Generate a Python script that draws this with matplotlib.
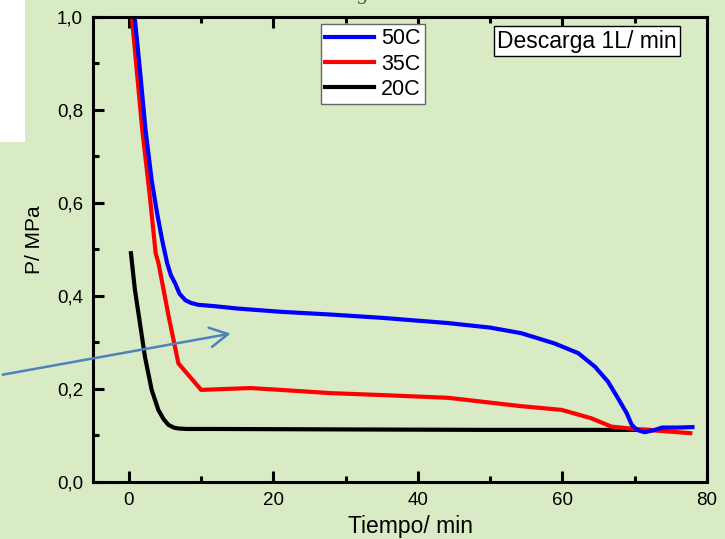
import numpy as np
import matplotlib
matplotlib.use('Agg')
import matplotlib.pyplot as plt
from matplotlib.patches import FancyArrowPatch, Rectangle
from matplotlib.ticker import MultipleLocator, FuncFormatter

plt.rcParams['font.family'] = ['Liberation Sans', 'DejaVu Sans']

# 50C
t50 = [0.6, 1.5, 2.3, 3.15, 3.9, 4.6, 5.3, 5.8, 6.4, 7.0, 7.8, 8.6, 9.6, 11.9, 15, 21,
       28, 35, 44, 50, 54.3, 58.9, 62.2, 64.5, 66.3, 67.7, 68.9, 69.6, 70.3, 71.4,
       72.8, 73.8, 76, 78]
p50 = [1.03, 0.89, 0.757, 0.649, 0.578, 0.52, 0.47, 0.445, 0.427, 0.405, 0.391,
       0.385, 0.381, 0.378, 0.373, 0.366, 0.36, 0.353, 0.342, 0.332, 0.32, 0.298,
       0.277, 0.248, 0.216, 0.18, 0.148, 0.123, 0.112, 0.107, 0.112, 0.117, 0.117,
       0.118]

# 35C
t35 = [0, 0.4, 1.85, 2.9, 3.7, 4.1, 5.5, 6.85, 10, 16.8, 21, 28, 34.9, 44.2, 54.3,
       59.9, 64, 66.8, 70, 77.7]
p35 = [1.06, 1.0, 0.757, 0.614, 0.492, 0.47, 0.356, 0.255, 0.198, 0.202, 0.198,
       0.191, 0.187, 0.181, 0.163, 0.155, 0.137, 0.119, 0.114, 0.105]

# 20C
t20 = [0.28, 0.83, 1.53, 2.22, 3.15, 4.07, 4.8, 5.46, 6.2, 6.85, 8, 11.9, 30, 50, 72]
p20 = [0.492, 0.413, 0.341, 0.269, 0.198, 0.155, 0.135, 0.123, 0.117, 0.115, 0.114,
       0.114, 0.113, 0.112, 0.112]

bg = '#D9EBC4'
fig = plt.figure(figsize=(7.25, 5.39), dpi=100, facecolor=bg)
ax = fig.add_axes([0.128, 0.1058, 0.847, 0.8627])
ax.set_facecolor(bg)

l20, = ax.plot(t20, p20, color='black', lw=3, label='20C', solid_joinstyle='round')
l35, = ax.plot(t35, p35, color='#FF0000', lw=3, label='35C', solid_joinstyle='round')
l50, = ax.plot(t50, p50, color='#0000FF', lw=3, label='50C', solid_joinstyle='round')

ax.set_xlim(-5, 80)
ax.set_ylim(0, 1.0)
ax.xaxis.set_major_locator(MultipleLocator(20))
ax.xaxis.set_minor_locator(MultipleLocator(10))
ax.yaxis.set_major_locator(MultipleLocator(0.2))
ax.yaxis.set_minor_locator(MultipleLocator(0.1))
ax.yaxis.set_major_formatter(FuncFormatter(lambda v, p: f'{v:.1f}'.replace('.', ',')))

ax.tick_params(which='major', direction='in', length=8, width=2.2, labelsize=13.5, pad=7)
ax.tick_params(which='minor', direction='in', length=4, width=2.2)
ax.tick_params(axis='x', which='both', top=True)
for s in ax.spines.values():
    s.set_linewidth(2.2)

ax.set_xlabel('Tiempo/ min', fontsize=16.5)
ax.set_ylabel('P/ MPa', fontsize=15)
ax.xaxis.set_label_coords(0.518, -0.07)
ax.yaxis.set_label_coords(-0.08, 0.52)

leg = ax.legend(handles=[l50, l35, l20], loc='upper left', bbox_to_anchor=(0.371, 0.985),
                borderaxespad=0, fontsize=15.5, handlelength=2.3, handletextpad=0.3,
                labelspacing=0.2, borderpad=0.2, fancybox=False, framealpha=1,
                edgecolor='#666666')
leg.get_frame().set_linewidth(1)

ax.text(0.805, 0.948, 'Descarga 1L/ min', transform=ax.transAxes, ha='center', va='center',
        fontsize=16.5, bbox=dict(boxstyle='square,pad=0.15', fc='white', ec='black', lw=1))

# white patch top-left and cut-off title
fig.add_artist(Rectangle((0, 0.7365), 0.0345, 0.2635, transform=fig.transFigure,
                         fc='white', ec='none'))
fig.text(362 / 725, 1.0, 'g', family='serif', ha='center', va='baseline',
         color='#555555', fontsize=14)

arrow = FancyArrowPatch((0, 0.304), (0.322, 0.382), transform=fig.transFigure,
                        arrowstyle='->,head_length=0.65,head_width=0.35',
                        mutation_scale=20, color='#4F81BD', lw=1.8, zorder=5)
fig.add_artist(arrow)

fig.savefig('out.png', dpi=100, facecolor=bg)
